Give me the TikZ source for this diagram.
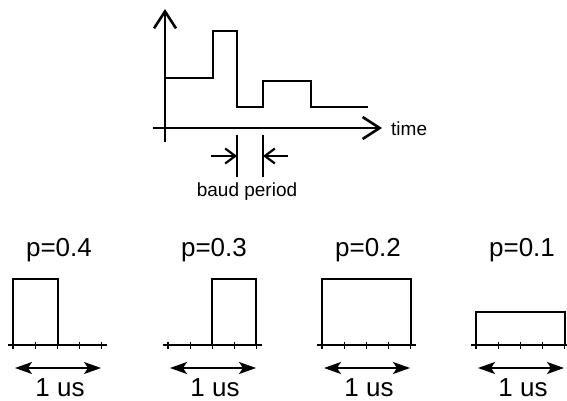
\documentclass[tikz,border=0pt]{standalone}
\usepackage{fontspec}
\setmainfont{Liberation Sans}
\usetikzlibrary{arrows.meta}
\begin{document}
\begin{tikzpicture}[x=1pt,y=-1pt,
  thickln/.style={line width=2.4pt},
  axisarrow/.style={line width=2.4pt,-{Straight Barb[length=17pt,width=22pt,line width=2.6pt]}},
  baudarrow/.style={line width=2.2pt,-{Straight Barb[length=10pt,width=15pt,line width=2.2pt]}},
  pulse/.style={line width=1.3pt},
  baseaxis/.style={line width=1.8pt},
  usarrow/.style={line width=1.5pt,{Stealth[length=17pt,width=12pt,inset=4pt]}-{Stealth[length=17pt,width=12pt,inset=4pt]}},
  toplabel/.style={font=\fontsize{19}{22}\selectfont, inner sep=0pt},
  botlabel/.style={font=\fontsize{26}{30}\selectfont, inner sep=0pt}]
\useasboundingbox (0,0) rectangle (567,401);
% top signal diagram
\coordinate (ybot) at (165,142);
\coordinate (ytop) at (165,9);
\coordinate (xl) at (153,128);
\coordinate (xr) at (382,128);
\draw[axisarrow] (ybot) -- (ytop);
\draw[axisarrow] (xl) -- (xr);
\node[toplabel, anchor=west] (time) at (391,129) {time};
\draw[thickln] (165,78) -- (213,78) -- (213,31) -- (237,31) -- (237,107) -- (263,107) -- (263,81) -- (311,81) -- (311,107) -- (368,107);
% baud period
\coordinate (b1t) at (237,135); \coordinate (b1b) at (237,177);
\coordinate (b2t) at (263,135); \coordinate (b2b) at (263,177);
\draw[thickln] (b1t) -- (b1b);
\draw[thickln] (b2t) -- (b2b);
\coordinate (la) at (211,156); \coordinate (ra) at (288,156);
\draw[baudarrow] (la) -- (237,156);
\draw[baudarrow] (ra) -- (263,156);
\node[toplabel] (baud) at (247,192) {baud period};
% bottom pulses
\foreach \x/\lab/\bl/\br/\top [count=\i] in {13/0.4/13/58/279, 168/0.3/212/256/279, 322/0.2/322/411/279, 476/0.1/476/565/312}{
  \draw[baseaxis] (\x-5,345) -- (\x+94,345);
  \foreach \k in {0,...,4}{ \draw[line width=1.3pt] (\x+\k*22.2,341.5) -- (\x+\k*22.2,348.5); }
  \draw[pulse] (\bl,345) -- (\bl,\top) -- (\br,\top) -- (\br,345);
  \node[botlabel] (p\i) at (\x+46,250) {p=\lab};
  \coordinate (al\i) at (\x+2,368);
  \coordinate (ar\i) at (\x+88,368);
  \draw[usarrow] (al\i) -- (ar\i);
  \node[botlabel] (us\i) at (\x+47,388) {1 us};
}
\end{tikzpicture}
\end{document}
